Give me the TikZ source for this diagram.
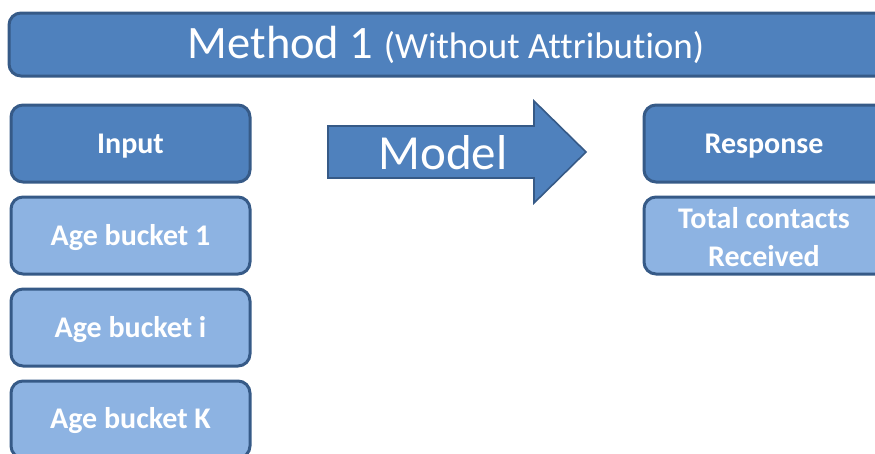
\documentclass[tikz,border=0pt]{standalone}
\usepackage{fontspec}
\setmainfont[Ligatures={NoCommon}]{Carlito}
\definecolor{darkfill}{HTML}{4F81BD}
\definecolor{lightfill}{HTML}{8DB3E2}
\definecolor{edge}{HTML}{365A87}
\begin{document}
\begin{tikzpicture}[x=1pt,y=-1pt,
  box/.style={draw=edge,line width=3pt,rounded corners=12pt},
  darkbox/.style={box,fill=darkfill},
  lightbox/.style={box,fill=lightfill},
  lbl/.style={text=white,font=\fontsize{30}{38}\selectfont\bfseries,align=center,inner sep=0pt}]
\useasboundingbox (0,0) rectangle (875,453);
\clip (0,0) rectangle (875,453);
% title
\draw[darkbox] (9,13) rectangle (900,76);
\node[text=white,font=\fontsize{46.5}{50}\selectfont] (title) at (446,45)
  {Method 1 {\fontsize{37}{40}\selectfont(Without Attribution)}};
% left column
\draw[darkbox] (11,105) rectangle (250,182);
\node[lbl] (input) at (130.5,146) {Input};
\draw[lightbox] (11,197) rectangle (250,274);
\node[lbl] (b1) at (130.5,238) {Age bucket 1};
\draw[lightbox] (11,289) rectangle (250,366);
\node[lbl] (bi) at (130.5,330) {Age bucket i};
\draw[lightbox] (11,381) rectangle (250,458);
\node[lbl] (bk) at (130.5,421) {Age bucket K};
% right column
\draw[darkbox] (644,105) rectangle (900,182);
\node[lbl] (resp) at (764,146) {Response};
\draw[lightbox] (644,197) rectangle (900,274);
\node[lbl] (total) at (764,237) {Total contacts\\Received};
% arrow
\draw[draw=edge,line width=1.6pt,fill=darkfill,line join=miter]
  (328,126) -- (534,126) -- (534,101) -- (586,152) -- (534,203) -- (534,178) -- (328,178) -- cycle;
\node[text=white,font=\fontsize{49}{52}\selectfont] (model) at (443,153) {Model};
\end{tikzpicture}
\end{document}
